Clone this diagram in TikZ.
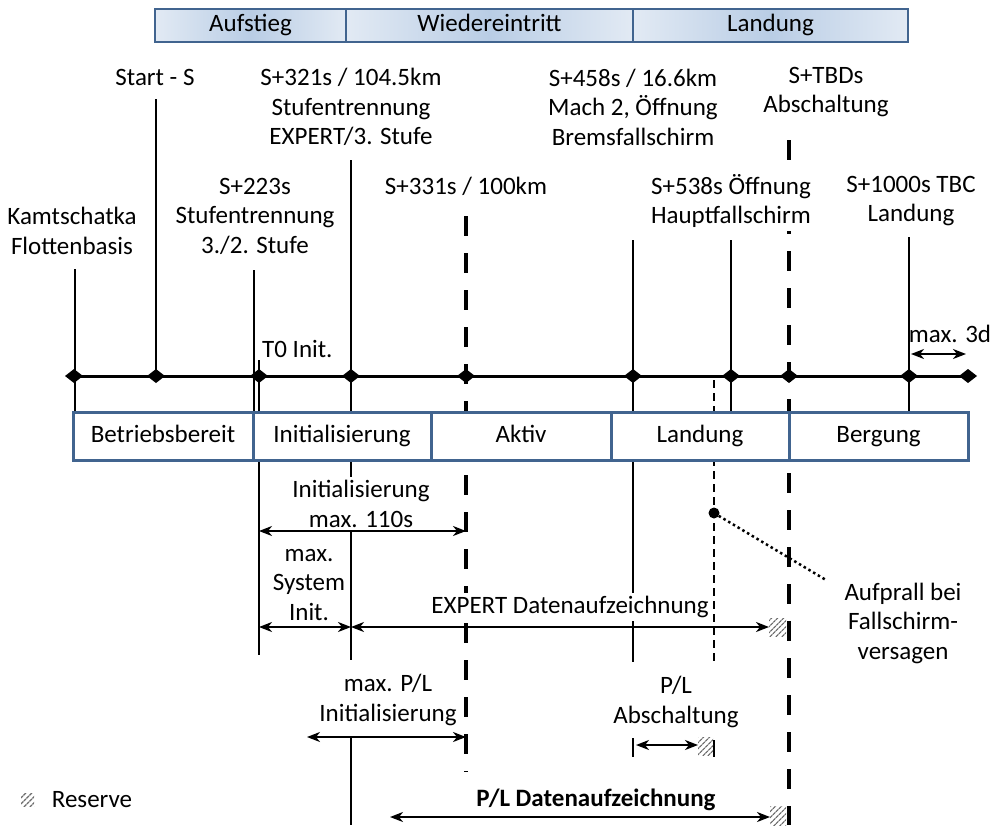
\documentclass[tikz,border=0pt]{standalone}
\usepackage{fontspec}
\setmainfont{Carlito}
\usetikzlibrary{arrows.meta,patterns.meta,shapes.geometric}
\definecolor{boxblue}{HTML}{41648F}
\definecolor{barmid}{HTML}{B9CDE5}
\definecolor{barout}{HTML}{E2EAF4}
\begin{document}
\begin{tikzpicture}[x=1pt,y=-1pt,
  every node/.style={font=\fontsize{25}{29.5}\selectfont, inner sep=1pt, align=center},
  lbl/.style={fill=white, inner sep=3pt},
  vline/.style={line width=2.5pt},
  bigdash/.style={line width=4pt, dash pattern=on 20pt off 17pt},
  smalldash/.style={line width=2.5pt, dash pattern=on 8pt off 5pt},
  dimarrow/.style={line width=2pt, {Stealth[length=13pt,width=10pt,inset=4pt]}-{Stealth[length=13pt,width=10pt,inset=4pt]}},
  phasebox/.style={draw=boxblue, line width=3pt, fill=white, minimum height=48pt, inner sep=0pt, text height=18pt, text depth=6pt},
  topcell/.style={draw=boxblue, line width=2pt, minimum height=33pt, inner sep=0pt, text height=18pt, text depth=6pt, left color=barout, right color=barout, middle color=barmid},
  reserve/.style={pattern={Lines[angle=45,distance=4pt,line width=1.4pt]}, pattern color=gray!85!black},
]
\useasboundingbox (0,0) rectangle (992,825);

% ---- top phase bar
\node[topcell, minimum width=191pt] (ph1) at (250.5,25.5) {Aufstieg};
\node[topcell, minimum width=287pt] (ph2) at (489.5,25.5) {Wiedereintritt};
\node[topcell, minimum width=275pt] (ph3) at (770.5,25.5) {Landung};

% ---- coordinates of vertical lines
\path (75,269) coordinate (k1) (75,412) coordinate (k2)
      (156,99) coordinate (s1)
      (254,270) coordinate (a1) (254,412) coordinate (a2)
      (259,360) coordinate (t1) (259,655) coordinate (t2)
      (351,160) coordinate (b1) (351,660) coordinate (b2)
      (351,737) coordinate (b3) (351,825) coordinate (b4)
      (466,216) coordinate (c1) (466,772) coordinate (c2)
      (633,240) coordinate (e1) (633,662) coordinate (e2)
      (633,738) coordinate (e3) (633,757) coordinate (e4)
      (731,240) coordinate (f1) (731,412) coordinate (f2)
      (714,380) coordinate (g1) (714,662) coordinate (g2)
      (714,740) coordinate (g3) (714,757) coordinate (g4)
      (789,140) coordinate (h1) (789,825) coordinate (h2)
      (909,237) coordinate (i1) (909,412) coordinate (i2);

% ---- timeline
\foreach \x/\n in {74/d1,156/d2,259/d3,351/d4,466/d5,633/d6,731/d7,789/d8,909/d9,968/d10}
  \coordinate (\n) at (\x,376);
\draw[line width=3pt] (d1) -- (d10);
\foreach \n in {d1,d2,d3,d4,d5,d6,d7,d8,d9,d10}
  \fill (\n) +(-9,0) -- +(0,-7) -- +(9,0) -- +(0,7) -- cycle;

% ---- vertical lines
\draw[vline] (k1) -- (k2);
\draw[vline] (s1) -- (d2);
\draw[vline] (a1) -- (a2);
\draw[vline] (t1) -- (t2);
\draw[vline] (b1) -- (b2);
\draw[vline] (b3) -- (b4);
\draw[bigdash] (c1) -- (c2);
\draw[vline] (e1) -- (e2);
\draw[vline] (e3) -- (e4);
\draw[vline] (f1) -- (f2);
\draw[smalldash] (g1) -- (g2);
\draw[line width=2.5pt] (g3) -- (g4);
\draw[bigdash] (h1) -- (h2);
\draw[vline] (i1) -- (i2);

% ---- phase boxes
\node[phasebox, minimum width=180pt] (p1) at (163,436) {Betriebsbereit};
\node[phasebox, minimum width=178pt] (p2) at (342,436) {Initialisierung};
\node[phasebox, minimum width=180pt] (p3) at (521,436) {Aktiv};
\node[phasebox, minimum width=178pt] (p4) at (700,436) {Landung};
\node[phasebox, minimum width=179pt] (p5) at (878.5,436) {Bergung};

% ---- upper labels
\node (lk) at (72,231) {Kamtschatka\\Flottenbasis};
\node (ls) at (155,77) {Start - S};
\node (l321) at (351,107) {S+321s / 104.5km\\Stufentrennung\\EXPERT/3. Stufe};
\node (l223) at (255,216) {S+223s\\Stufentrennung\\3./2. Stufe};
\node (l331) at (466,186) {S+331s / 100km};
\node (l458) at (633,107) {S+458s / 16.6km\\Mach 2, Öffnung\\Bremsfallschirm};
\node (ltbd) at (826,92) {S+TBDs\\Abschaltung};
\node[lbl] (l538) at (731,201) {S+538s Öffnung\\Hauptfallschirm};
\node (l1000) at (911,201) {S+1000s TBC\\Landung};
\node[anchor=west] (lt0) at (261,349) {T0 Init.};
\node (l3d) at (950,334) {max. 3d};

% ---- lower labels
\node[lbl] (li) at (361,504) {Initialisierung\\max. 110s};
\node (lsys) at (309,585) {max.\\System\\Init.};
\node[lbl] (lexp) at (570,607) {EXPERT Datenaufzeichnung};
\node (lauf) at (903,623) {Aufprall bei\\Fallschirm-\\versagen};
\node (lpli) at (388,700) {max. P/L\\Initialisierung};
\node (lpla) at (676,702) {P/L\\Abschaltung};
\node (lpld) at (596,800) {\textbf{P/L Datenaufzeichnung}};
\node (lres) at (92,800) {Reserve};

% ---- impact marker
\coordinate (dot) at (714,513);
\coordinate (dotend) at (826,580);
\fill (dot) circle (5.5pt);
\draw[line width=2.5pt, dash pattern=on 2.5pt off 3pt] (dot) -- (dotend);

% ---- reserve hatches
\fill[white] (769,618) rectangle (786,636);
\path[reserve] (769,618) rectangle (786,636);
\path[reserve] (698,737) rectangle (713,755);
\path[reserve] (770,806) rectangle (786,825);
\path[reserve] (21,793) rectangle (34,806);

% ---- dimension arrows
\path (259,531) coordinate (m1) (466,531) coordinate (m2)
      (259,627) coordinate (n1) (351,627) coordinate (n2) (769,627) coordinate (n3)
      (307,737) coordinate (o1) (466,737) coordinate (o2)
      (636,745) coordinate (q1) (698,745) coordinate (q2)
      (390,817) coordinate (r1) (770,817) coordinate (r2)
      (911,354) coordinate (u1) (966,354) coordinate (u2);
\draw[dimarrow] (m1) -- (m2);
\draw[dimarrow] (n1) -- (n2);
\draw[dimarrow] (n2) -- (n3);
\draw[dimarrow] (o1) -- (o2);
\draw[dimarrow] (q1) -- (q2);
\draw[dimarrow] (r1) -- (r2);
\draw[dimarrow] (u1) -- (u2);
\end{tikzpicture}
\end{document}
